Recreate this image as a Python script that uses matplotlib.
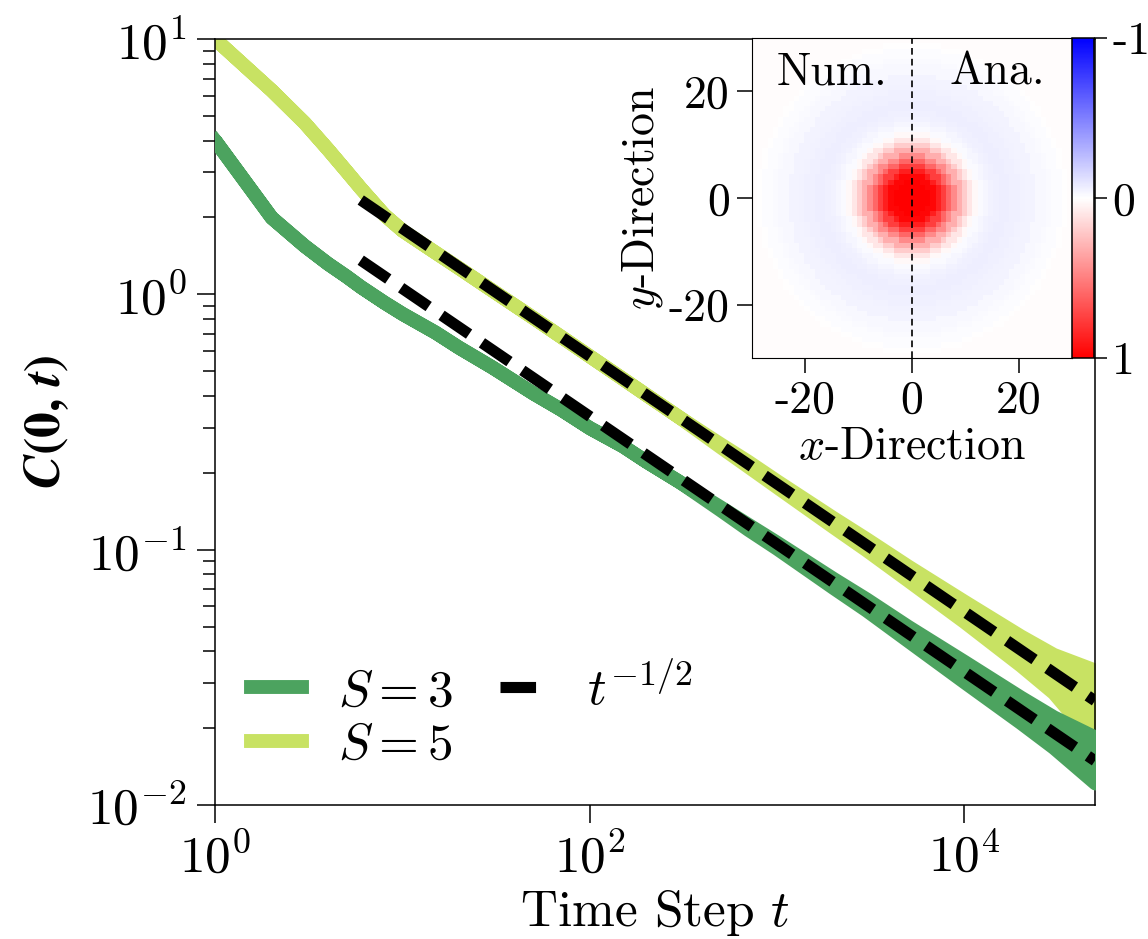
import numpy as np
import matplotlib.pyplot as plt
from matplotlib.lines import Line2D

plt.rcParams['font.family'] = 'serif'
plt.rcParams['font.serif'] = ['cmr10']
plt.rcParams['mathtext.fontset'] = 'cm'
plt.rcParams['axes.formatter.use_mathtext'] = True
plt.rcParams['axes.unicode_minus'] = False

# values (log-log)
t_pts = [1, 2, 3, 4, 5, 6, 8, 10, 15, 20, 30, 50, 70, 100, 150, 200, 300,
         500, 700, 1000, 2000, 3000, 5000, 1e4, 2e4, 3e4, 5e4]
c_s3 = [4.0, 2.0, 1.55, 1.32, 1.18, 1.07, 0.93, 0.84, 0.71, 0.62, 0.52, 0.41,
        0.355, 0.30, 0.255, 0.222, 0.185, 0.145, 0.123, 0.104, 0.074, 0.061,
        0.047, 0.0333, 0.0236, 0.0193, 0.0150]
c_s5 = [10.0, 6.3, 4.7, 3.7, 3.05, 2.6, 2.05, 1.78, 1.46, 1.27, 1.04, 0.81,
        0.685, 0.573, 0.468, 0.405, 0.331, 0.256, 0.217, 0.181, 0.128, 0.105,
        0.081, 0.0573, 0.0405, 0.0331, 0.0262]
# noise band (decades above / below the curve)
up_s3 = [0]*17 + [0.006, 0.01, 0.012, 0.018, 0.022, 0.028, 0.04, 0.05, 0.06, 0.09]
dn_s3 = [0]*17 + [0.006, 0.01, 0.012, 0.018, 0.022, 0.028, 0.04, 0.05, 0.06, 0.09]
up_s5 = [0]*17 + [0.006, 0.01, 0.012, 0.018, 0.022, 0.028, 0.04, 0.055, 0.07, 0.11]
dn_s5 = [0]*17 + [0.006, 0.01, 0.012, 0.018, 0.022, 0.028, 0.04, 0.06, 0.08, 0.17]

fit_t = [6, 5e4]
fit_s3 = [1.36, 0.0149]
fit_s5 = [2.34, 0.0256]

# inset: radial profile of the correlation map
radial_r = list(range(44))
radial_c = [1.0, 1.0, 1.0, 1.0, 0.97, 0.88, 0.75, 0.6, 0.46, 0.32, 0.2, 0.1,
            0.03, -0.02, -0.035, -0.05, -0.06, -0.065, -0.065, -0.06, -0.055,
            -0.05, -0.045, -0.04, -0.03, -0.025, -0.02, -0.015, -0.01, 0.0] + [0.015]*14
grid_x = np.arange(-30, 31)

col3 = '#4ca35f'
col5 = '#c8e263'

fig = plt.figure(figsize=(11.48, 9.39), dpi=100)
ax = fig.add_axes([0.1873, 0.1427, 0.7665, 0.8158])

t = np.array(t_pts)
for c, up, dn, col, z in [(c_s5, up_s5, dn_s5, col5, 2), (c_s3, up_s3, dn_s3, col3, 3)]:
    c = np.array(c)
    lo = c * 10**(-np.array(dn))
    hi = c * 10**np.array(up)
    ax.fill_between(t, lo, hi, facecolor=col, edgecolor=col, lw=10,
                    joinstyle='round', zorder=z)
    ax.plot(t, c, color=col, lw=10, zorder=z)

ax.plot(fit_t, fit_s3, color='k', lw=8, dashes=(3, 1.4), zorder=5)
ax.plot(fit_t, fit_s5, color='k', lw=8, dashes=(3, 1.4), zorder=5)

ax.set_xscale('log')
ax.set_yscale('log')
ax.set_xlim(1, 5e4)
ax.set_ylim(1e-2, 1e1)
ax.set_xticks([1, 1e2, 1e4])
ax.set_xticklabels([r'$10^{0}$', r'$10^{2}$', r'$10^{4}$'])
ax.xaxis.set_minor_locator(plt.NullLocator())
ax.tick_params(which='major', labelsize=37, length=13, width=1.1, pad=7)
ax.tick_params(which='minor', length=9, width=1.1)
ax.set_xlabel(r'Time Step $t$', fontsize=37, labelpad=4)
ax.set_ylabel(r'$\mathbfit{C}\mathbf{(0,}\,\mathbfit{t}\mathbf{)}$', fontsize=37,
              math_fontfamily='stix', labelpad=12)
for s in ax.spines.values():
    s.set_linewidth(1.1)

handles = [Line2D([], [], color=col3, lw=10),
           Line2D([], [], color=col5, lw=10),
           Line2D([], [], color='k', lw=8, dashes=(3.2, 3.5))]
ax.legend(handles, [r'$S=3$', r'$S=5$', r'$t^{-1/2}$'], ncol=2, loc='lower left',
          frameon=False, fontsize=37, handlelength=1.0, handletextpad=0.7,
          columnspacing=0.9, labelspacing=0.15, borderaxespad=0.3)

# inset
axin = fig.add_axes([752/1148, 1 - 358/939, 320/1148, 320/939])
cax = fig.add_axes([1072/1148, 1 - 358/939, 22/1148, 320/939])
gx, gy = np.meshgrid(grid_x, grid_x)
ridx = np.clip(np.rint(np.hypot(gx, gy)).astype(int), 0, len(radial_c) - 1)
field = np.array(radial_c)[ridx]
im = axin.imshow(field, cmap='bwr', vmin=-1, vmax=1, origin='lower',
                 extent=(-30, 30, -30, 30), interpolation='nearest')
axin.axvline(0, color='k', lw=1.2, ls=(0, (4, 2.5)))
axin.set_xticks([-20, 0, 20])
axin.set_yticks([-20, 0, 20])
axin.set_xticklabels(['-20', '0', '20'])
axin.set_yticklabels(['-20', '0', '20'])
axin.tick_params(labelsize=33, length=11, width=1.1, pad=5)
axin.set_xlabel(r'$x$-Direction', fontsize=33, labelpad=3)
axin.set_ylabel(r'$y$-Direction', fontsize=33, labelpad=3)
axin.text(-15, 23.5, 'Num.', fontsize=33, ha='center', va='center')
axin.text(16, 23.5, 'Ana.', fontsize=33, ha='center', va='center')

cb = fig.colorbar(im, cax=cax, ticks=[-1, 0, 1])
cax.invert_yaxis()
cb.set_ticklabels(['-1', '0', '1'])
cax.tick_params(labelsize=33, length=9, width=1.1, pad=4)
cb.outline.set_linewidth(1.1)

fig.savefig('out.png', dpi=100)
